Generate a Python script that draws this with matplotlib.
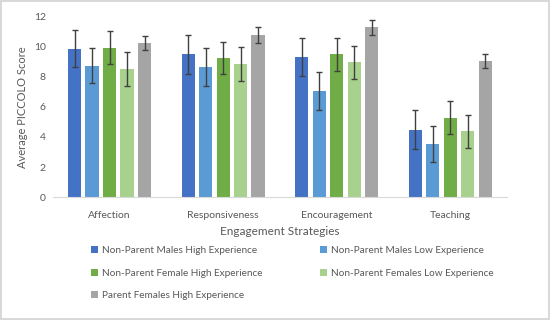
import numpy as np
import matplotlib.pyplot as plt

plt.rcParams['font.family'] = ['Lato', 'DejaVu Sans']

categories = ["Affection", "Responsiveness", "Encouragement", "Teaching"]
groups = ["Non-Parent Males High Experience", "Non-Parent Males Low Experience",
          "Non-Parent Female High Experience", "Non-Parent Females Low Experience",
          "Parent Females High Experience"]
colors = ["#4472C4", "#5B9BD5", "#70AD47", "#A9D18E", "#A5A5A5"]

means = [
    [9.87, 9.49, 9.31, 4.49],
    [8.73, 8.67, 7.04, 3.56],
    [9.93, 9.27, 9.49, 5.29],
    [8.51, 8.84, 8.96, 4.38],
    [10.27, 10.78, 11.29, 9.07],
]
errors = [
    [1.25, 1.28, 1.28, 1.27],
    [1.17, 1.25, 1.27, 1.20],
    [1.10, 1.07, 1.10, 1.07],
    [1.12, 1.14, 1.11, 1.10],
    [0.47, 0.50, 0.50, 0.47],
]

fig = plt.figure(figsize=(5.5, 3.2), dpi=100)
fig.patch.set_edgecolor("#D9D9D9")
fig.patch.set_linewidth(1.5)
ax = fig.add_axes([0.096, 0.384, 0.826, 0.564])

x = np.arange(len(categories))
pitch = 0.154
width = 0.117
bars = []
for i, (g, c) in enumerate(zip(groups, colors)):
    b = ax.bar(x + (i - 2) * pitch, means[i], width, color=c, label=g,
               yerr=errors[i], capsize=2.2,
               error_kw=dict(ecolor="#404040", elinewidth=1, capthick=1))
    bars.append(b)

ax.set_xlim(-0.5, 3.5)
ax.set_ylim(0, 12)
ax.set_yticks(range(0, 13, 2))
ax.set_xticks(x)
ax.set_xticklabels(categories)
for s in ["top", "right", "left"]:
    ax.spines[s].set_visible(False)
ax.spines["bottom"].set_color("#D9D9D9")
ax.tick_params(axis="y", length=0, labelsize=7.5, colors="#595959", pad=5)
ax.tick_params(axis="x", length=0, labelsize=7.5, colors="#595959", pad=10)
ax.set_ylabel("Average PICCOLO Score", fontsize=8, color="#595959")
ax.set_xlabel("Engagement Strategies", fontsize=8.5, color="#595959", labelpad=4)

# legend filled row by row like the original
order = [0, 2, 4, 1, 3]
leg = fig.legend([bars[k] for k in order], [groups[k] for k in order],
                 loc="upper left", bbox_to_anchor=(0.166, 0.23), ncol=2, frameon=False,
                 fontsize=7.2, handlelength=0.7, handleheight=0.7, handletextpad=0.4,
                 columnspacing=5.7, labelspacing=1.35, borderaxespad=0, borderpad=0)
for t in leg.get_texts():
    t.set_color("#595959")

fig.savefig("out.png", dpi=100)
